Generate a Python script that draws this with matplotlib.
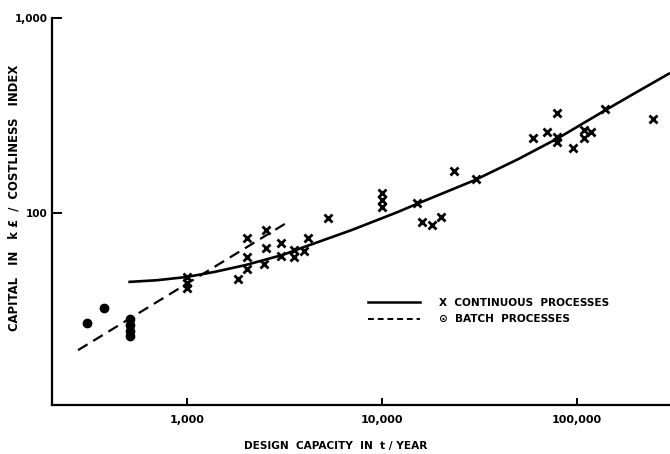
import matplotlib
matplotlib.use("Agg")
import matplotlib.pyplot as plt
from matplotlib.lines import Line2D

# ---- data ----
cont_x = [1000, 1000, 1000, 1830, 2030, 2030, 2030, 2480, 2540, 2540,
          3030, 3030, 3540, 3540, 3980, 4180, 5290, 10000, 10000, 10000,
          15100, 16000, 18000, 20100, 23400, 30300, 59400, 70100,
          78900, 78900, 78900, 95300, 108700, 108700, 118000, 139000, 245000]
cont_y = [47.0, 43.8, 41.2, 45.9, 74.5, 59.5, 51.6, 54.7, 66.2, 81.8,
          70.2, 60.1, 64.6, 59.5, 63.8, 74.5, 94, 126.7, 116.6, 107.3,
          112.5, 90, 86.8, 95.4, 164, 149, 242, 260,
          326, 245, 232, 215, 267, 242, 260, 341, 303]

batch_x = [307, 375, 510, 510, 510, 510]
batch_y = [27.3, 32.6, 28.6, 26.7, 24.8, 23.4]

curve_x = [500, 700, 1000, 1400, 2000, 3100, 4000, 7000, 12000, 15000,
           30000, 50000, 80000, 140000, 200000, 300000]
curve_y = [44.3, 45.2, 47.0, 50.0, 54.1, 61.0, 67.0, 81.8, 101, 111,
           147.6, 189, 242, 337, 414, 522]

batch_line_x = [276, 3300]
batch_line_y = [19.8, 90]

x_ticks = [1000, 10000, 100000]
x_ticklabels = ["1,000", "10,000", "100,000"]
y_ticks = [100, 1000]
y_ticklabels = ["100", "1,000"]

labels = ["X  CONTINUOUS  PROCESSES", "\u2299  BATCH  PROCESSES"]

# ---- figure ----
W, H = 670, 454
fig = plt.figure(figsize=(W / 100, H / 100), dpi=100)
ax = fig.add_axes([52 / W, 1 - 405 / H, (W - 52) / W, (405 - 18) / H])
ax.set_xscale("log")
ax.set_yscale("log")
ax.set_xlim(203, 300000)
ax.set_ylim(10.36, 1000)

ax.plot(curve_x, curve_y, color="black", lw=1.9, solid_capstyle="butt",
        solid_joinstyle="round")
ax.plot(batch_line_x, batch_line_y, color="black", lw=1.6, dashes=(5, 3))
ax.plot(cont_x, cont_y, ls="none", marker="x", ms=5.2, mew=2.0, color="black")
ax.plot(batch_x, batch_y, ls="none", marker="o", ms=6, color="black")

for s in ["top", "right"]:
    ax.spines[s].set_visible(False)
for s in ["left", "bottom"]:
    ax.spines[s].set_linewidth(1.6)

ax.set_xticks(x_ticks)
ax.set_xticklabels(x_ticklabels)
ax.set_yticks(y_ticks)
ax.set_yticklabels(y_ticklabels)
ax.minorticks_off()
ax.tick_params(axis="x", direction="in", length=5, width=1.4, pad=7,
               labelsize=8)
ax.tick_params(axis="y", direction="in", length=7, width=1.4, pad=3,
               labelsize=7.5)
for t in ax.get_xticklabels() + ax.get_yticklabels():
    t.set_fontweight("bold")

fig.text(336 / W, 1 - 446 / H, "DESIGN  CAPACITY  IN  t / YEAR",
         ha="center", va="center", fontsize=7.6, fontweight="bold")
fig.text(14 / W, 1 - 198 / H, "CAPITAL   IN   k \u00a3  /  COSTLINESS   INDEX",
         ha="center", va="center", rotation=90, fontsize=8.4, fontweight="bold")

handles = [Line2D([], [], color="black", lw=1.8),
           Line2D([], [], color="black", lw=1.4, dashes=(3, 2))]
leg = ax.legend(handles, labels, loc="upper left",
                bbox_to_anchor=(368 / W, 1 - 298 / H),
                bbox_transform=fig.transFigure, frameon=False,
                fontsize=7.6, handlelength=4.9, handletextpad=1.8,
                labelspacing=0.6, borderpad=0, borderaxespad=0)
for t in leg.get_texts():
    t.set_fontweight("bold")

fig.savefig("out.png", dpi=100)
